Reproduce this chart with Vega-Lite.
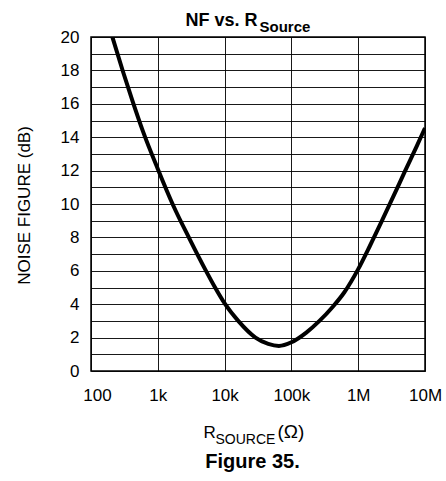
{
  "$schema": "https://vega.github.io/schema/vega-lite/v6.json",
  "width": 334,
  "height": 334,
  "autosize": {"type": "none"},
  "padding": {"left": 91, "top": 37, "right": 21, "bottom": 110},
  "background": "white",
  "config": {
    "view": {"stroke": "#000", "strokeWidth": 1.5},
    "font": "Liberation Sans",
    "axis": {"labelColor": "#000", "titleColor": "#000", "labelFont": "Liberation Sans", "titleFont": "Liberation Sans"}
  },
  "data": {
    "values": [
      {"R": 209, "NF": 20},
      {"R": 300, "NF": 17.95},
      {"R": 420, "NF": 16.15},
      {"R": 600, "NF": 14.35},
      {"R": 1000, "NF": 12.1},
      {"R": 1730, "NF": 9.85},
      {"R": 3000, "NF": 7.9},
      {"R": 5100, "NF": 6.1},
      {"R": 7200, "NF": 5.0},
      {"R": 10200, "NF": 4.0},
      {"R": 16000, "NF": 3.0},
      {"R": 29000, "NF": 2.0},
      {"R": 45000, "NF": 1.62},
      {"R": 65000, "NF": 1.5},
      {"R": 100000, "NF": 1.72},
      {"R": 167000, "NF": 2.3},
      {"R": 263000, "NF": 3.0},
      {"R": 417000, "NF": 3.85},
      {"R": 617000, "NF": 4.7},
      {"R": 1000000, "NF": 6.1},
      {"R": 1500000, "NF": 7.5},
      {"R": 2270000, "NF": 9.0},
      {"R": 3400000, "NF": 10.5},
      {"R": 5000000, "NF": 11.95},
      {"R": 7500000, "NF": 13.45},
      {"R": 10000000, "NF": 14.55}
    ]
  },
  "layer": [
    {
      "mark": {"type": "line", "color": "#000", "strokeWidth": 4, "interpolate": "monotone", "clip": true},
      "encoding": {
        "x": {
          "field": "R", "type": "quantitative",
          "scale": {"type": "log", "domain": [100, 10000000], "nice": false},
          "axis": {
            "orient": "bottom",
            "values": [100, 1000, 10000, 100000, 1000000, 10000000],
            "format": "~s",
            "grid": true, "gridColor": "#000", "gridWidth": 1, "gridOpacity": 0.9,
            "ticks": false, "domain": false,
            "labelFontSize": 17, "labelPadding": 16, "labelOverlap": false, "labelFlush": false, "labelBound": false,
            "labelOffset": {"condition": {"test": "datum.value == 100", "value": 6}, "value": 0},
            "title": "R", "titleX": 112, "titleY": 66, "titleAlign": "left", "titleBaseline": "alphabetic",
            "titleFontSize": 17, "titleFontWeight": "normal"
          }
        },
        "y": {
          "field": "NF", "type": "quantitative",
          "scale": {"domain": [0, 20], "nice": false},
          "axis": {
            "orient": "left",
            "values": [0,1,2,3,4,5,6,7,8,9,10,11,12,13,14,15,16,17,18,19,20],
            "labelExpr": "datum.value % 2 == 0 ? datum.label : ''",
            "grid": true, "gridColor": "#000", "gridWidth": 1, "gridOpacity": 0.9,
            "ticks": false, "domain": false,
            "labelFontSize": 17, "labelPadding": 12, "labelBaseline": "middle", "labelFlush": false,
            "title": "NOISE FIGURE (dB)", "titleX": -67, "titleY": 168, "titleAngle": 270,
            "titleAlign": "center", "titleBaseline": "middle", "titleFontSize": 17, "titleFontWeight": "normal"
          }
        }
      }
    },
    {
      "mark": {"type": "line", "opacity": 0},
      "encoding": {
        "x": {
          "field": "R", "type": "quantitative",
          "scale": {"type": "log", "domain": [100, 10000000], "nice": false},
          "axis": {
            "orient": "bottom", "labels": false, "ticks": false, "domain": false, "grid": false,
            "title": "SOURCE", "titleX": 124, "titleY": 72, "titleAlign": "left", "titleBaseline": "alphabetic",
            "titleFontSize": 14, "titleFontWeight": "normal"
          }
        },
        "y": {
          "field": "NF", "type": "quantitative",
          "scale": {"domain": [0, 20], "nice": false},
          "axis": {
            "orient": "left", "labels": false, "ticks": false, "domain": false, "grid": false,
            "title": "(Ω)", "titleX": 186, "titleY": 400, "titleAngle": 0, "titleAlign": "left", "titleBaseline": "alphabetic",
            "titleFontSize": 19, "titleFontWeight": "normal"
          }
        }
      }
    },
    {
      "mark": {"type": "line", "opacity": 0},
      "encoding": {
        "x": {
          "field": "R", "type": "quantitative",
          "scale": {"type": "log", "domain": [100, 10000000], "nice": false},
          "axis": {
            "orient": "bottom", "labels": false, "ticks": false, "domain": false, "grid": false,
            "title": "Figure 35.", "titleX": 161, "titleY": 96, "titleAlign": "center", "titleBaseline": "alphabetic",
            "titleFontSize": 20, "titleFontWeight": "bold"
          }
        },
        "y": {
          "field": "NF", "type": "quantitative",
          "scale": {"domain": [0, 20], "nice": false},
          "axis": {
            "orient": "left", "labels": false, "ticks": false, "domain": false, "grid": false,
            "title": "NF vs. R", "titleX": 94, "titleY": -12, "titleAngle": 0, "titleAlign": "left", "titleBaseline": "alphabetic",
            "titleFontSize": 18, "titleFontWeight": "bold"
          }
        }
      }
    },
    {
      "mark": {"type": "line", "opacity": 0},
      "encoding": {
        "x": {
          "field": "R", "type": "quantitative",
          "scale": {"type": "log", "domain": [100, 10000000], "nice": false},
          "axis": {
            "orient": "bottom", "labels": false, "ticks": false, "domain": false, "grid": false,
            "title": "Source", "titleX": 168, "titleY": -340, "titleAlign": "left", "titleBaseline": "alphabetic",
            "titleFontSize": 15, "titleFontWeight": "bold"
          }
        },
        "y": {
          "field": "NF", "type": "quantitative",
          "scale": {"domain": [0, 20], "nice": false},
          "axis": null
        }
      }
    }
  ],
  "resolve": {"axis": {"x": "independent", "y": "independent"}}
}
